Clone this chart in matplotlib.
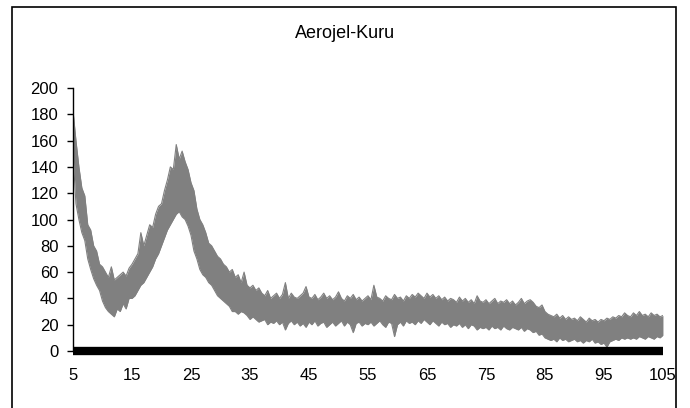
"""Aerojel-Kuru XRD pattern redrawn with matplotlib."""
import matplotlib

matplotlib.use("Agg")
import matplotlib.pyplot as plt
import numpy as np
from matplotlib.patches import Rectangle

plt.rcParams["font.family"] = ["Liberation Sans", "DejaVu Sans"]

TITLE = "Aerojel-Kuru"

# 2-theta grid, every 0.5 degree from 5 to 105
two_theta = np.arange(5, 105.5, 0.5)

# upper edge of the noisy band (10 values per 5 degrees)
intensity_hi = [
    183, 160, 140, 124, 118, 96, 92, 80, 76, 66,
    64, 60, 56, 64, 54, 56, 58, 60, 57, 63,
    66, 70, 74, 90, 80, 88, 96, 94, 104, 110,
    112, 122, 130, 140, 138, 157, 146, 152, 144, 138,
    128, 122, 108, 100, 96, 90, 82, 80, 76, 72,
    70, 66, 64, 60, 62, 56, 58, 52, 60, 50,
    48, 50, 46, 48, 44, 42, 46, 40, 42, 44,
    40, 43, 52, 40, 44, 41, 40, 42, 44, 49,
    41, 40, 43, 39, 41, 44, 40, 42, 39, 41,
    45, 40, 38, 42, 40, 43, 39, 41, 38, 40,
    42, 39, 50, 41, 40, 38, 42, 40, 39, 43,
    40, 41, 38, 42, 40, 43, 41, 44, 42, 40,
    44, 41, 43, 40, 42, 39, 41, 38, 40, 39,
    37, 41, 38, 40, 37, 39, 36, 42, 38, 37,
    39, 36, 38, 40, 36, 38, 37, 39, 36, 38,
    35, 37, 40, 36, 38, 39, 37, 34, 33, 35,
    30, 28, 27, 26, 28, 25, 27, 24, 26, 24,
    25, 23, 26, 24, 22, 25, 23, 24, 22, 24,
    23, 25, 24, 26, 25, 27, 26, 29, 27, 26,
    29, 27, 30, 27, 28, 26, 29, 27, 28, 26,
    27,
]

# lower edge of the noisy band
intensity_lo = [
    150, 112, 100, 90, 84, 70, 62, 55, 50, 46,
    38, 33, 30, 28, 26, 32, 30, 36, 32, 40,
    40, 42, 46, 50, 52, 56, 60, 64, 70, 74,
    80, 86, 92, 96, 100, 104, 106, 102, 100, 95,
    88, 76, 70, 62, 58, 56, 52, 50, 46, 42,
    40, 38, 36, 34, 30, 30, 28, 30, 29, 27,
    24, 26, 24, 22, 23, 24, 20, 22, 21, 23,
    20, 22, 16, 21, 23, 20, 22, 19, 21, 18,
    22, 20, 23, 19, 21, 22, 18, 20, 22, 19,
    21, 23, 19, 22, 20, 14, 21, 22, 19, 21,
    20, 22, 19, 21, 23, 20, 18, 22, 21, 11,
    20, 22, 19, 23, 21, 22, 20, 23, 21, 24,
    22, 20, 23, 21, 19, 22, 20, 21, 18, 20,
    19, 21, 18, 20, 17, 20, 19, 16, 18, 17,
    18, 16, 19, 17, 18, 16, 19, 17, 16, 18,
    17, 16, 18, 15, 17, 16, 14, 15, 12, 13,
    10, 9, 8, 9, 7, 10, 8, 9, 7, 8,
    9, 7, 8, 6, 8, 7, 9, 6, 7, 5,
    6, 3, 7, 8, 9, 8, 10, 9, 10, 9,
    10, 9, 11, 10, 9, 11, 10, 9, 11, 10,
    12,
]

# second series sitting on the baseline
baseline = [0] * len(two_theta)

x_ticks = [5, 15, 25, 35, 45, 55, 65, 75, 85, 95, 105]
y_ticks = [0, 20, 40, 60, 80, 100, 120, 140, 160, 180, 200]

GREY = "#808080"


def main() -> None:
    fig = plt.figure(figsize=(6.9, 4.08), dpi=100)
    ax = fig.add_axes([0.1058, 0.1397, 0.855, 0.6446])

    ax.fill_between(two_theta, intensity_lo, intensity_hi, color=GREY, linewidth=0)
    ax.plot(two_theta, intensity_hi, color=GREY, linewidth=0.8)
    ax.plot(two_theta, intensity_lo, color=GREY, linewidth=0.8)
    ax.plot(two_theta, baseline, color="black", linewidth=6, solid_capstyle="butt",
            clip_on=False, zorder=5)

    ax.set_xlim(5, 105)
    ax.set_ylim(0, 200)
    ax.set_xticks(x_ticks)
    ax.set_yticks(y_ticks)
    ax.tick_params(axis="x", length=0, pad=12, labelsize=12)
    ax.tick_params(axis="y", length=4.5, width=1, pad=6, labelsize=12, direction="out")

    for side in ["top", "right", "bottom"]:
        ax.spines[side].set_visible(False)
    ax.spines["left"].set_linewidth(1)

    fig.text(0.5, 0.917, TITLE, ha="center", va="center", fontsize=13)

    # outer chart frame (bottom edge runs past the image)
    frame = Rectangle((11.5 / 690, -0.05), 664.5 / 690, 1.05 - 7.5 / 408,
                      transform=fig.transFigure, fill=False,
                      edgecolor="black", linewidth=1.2, zorder=10)
    fig.patches.append(frame)

    fig.savefig("out.png", dpi=100)
    plt.close(fig)


if __name__ == "__main__":
    main()
